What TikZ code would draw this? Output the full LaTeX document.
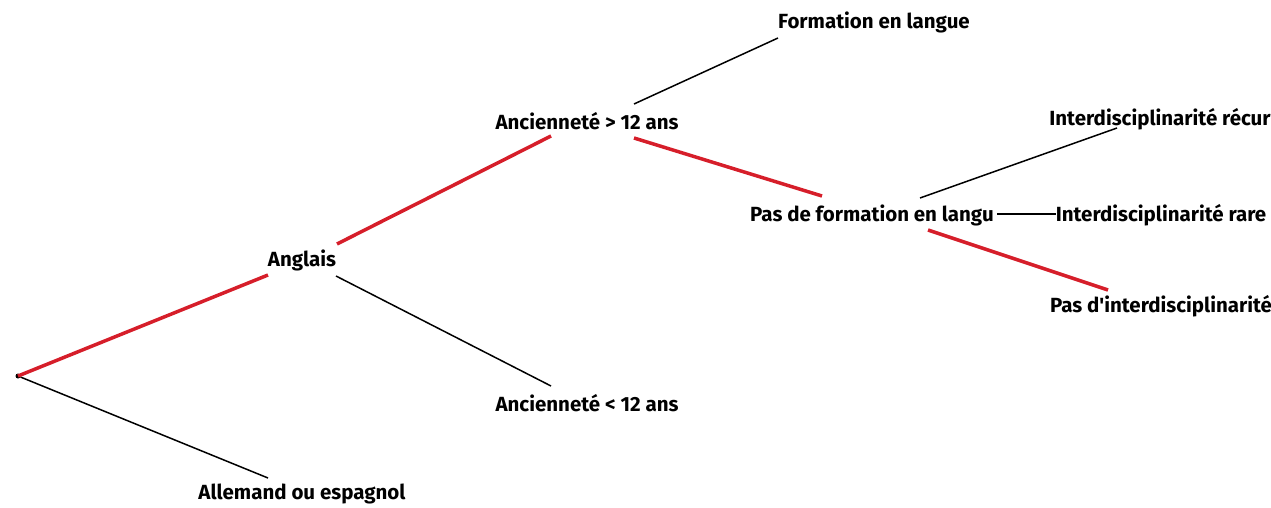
\documentclass[tikz,border=0pt]{standalone}
\usepackage{fontspec}
\newfontfamily\lblfont{Fira Sans}
\usetikzlibrary{calc}
\definecolor{treered}{RGB}{214,30,42}
\tikzset{
  lbl/.style={inner sep=0pt, font=\lblfont\fontsize{20.5}{22}\selectfont\bfseries, text=black},
  redl/.style={draw=treered, line width=3.5pt},
  blkl/.style={draw=black, line width=1.5pt},
}
\begin{document}
\begin{tikzpicture}[x=1pt,y=-1pt]
\useasboundingbox (0,0) rectangle (1271,508);
\node[circle, fill=black, inner sep=0pt, minimum size=5pt] (root) at (18,376) {};
\node[lbl] (ang) at (302,260) {Anglais};
\node[lbl] (all) at (302,494) {Allemand ou espagnol};
\node[lbl] (a12) at (587,121) {Ancienneté > 12 ans};
\node[lbl] (b12) at (587,403) {Ancienneté < 12 ans};
\node[lbl] (form) at (874,22) {Formation en langue};
\node[lbl] (pdf) at (872,215) {Pas de formation en langu};
\node[lbl] (rec) at (1160,119) {Interdisciplinarité récur};
\node[lbl] (rare) at (1161,215) {Interdisciplinarité rare};
\node[lbl] (pdi) at (1161,306) {Pas d'interdisciplinarité};
\path[blkl] (root) -- ($(all)+(-34,-16)$);
\path[redl] (root.center) -- ($(ang)+(-34,15)$);
\path[redl] ($(ang)+(35,-16)$) -- ($(a12)+(-36,15)$);
\path[blkl] ($(ang)+(34,16)$) -- ($(b12)+(-36,-17)$);
\path[blkl] ($(a12)+(47,-17)$) -- ($(form)+(-96,16)$);
\path[redl] ($(a12)+(47,17)$) -- ($(pdf)+(-50,-19)$);
\path[blkl] ($(pdf)+(48,-17)$) -- ($(rec)+(-43,9)$);
\path[blkl] ($(pdf)+(125,-1)$) -- ($(rare)+(-105,-1)$);
\path[redl] ($(pdf)+(56,15)$) -- ($(pdi)+(-53,-16)$);
\end{tikzpicture}
\end{document}
